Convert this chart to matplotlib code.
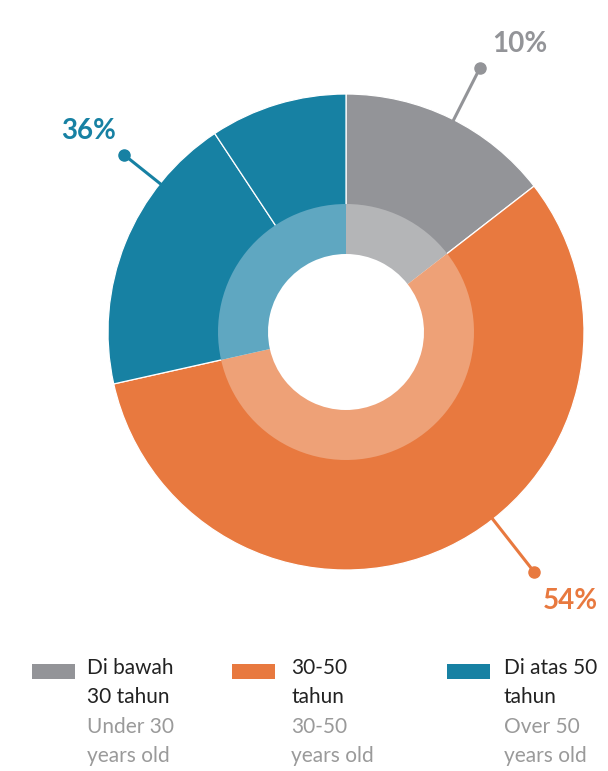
import matplotlib
matplotlib.use("Agg")
import matplotlib.pyplot as plt
from matplotlib.patches import Rectangle
import numpy as np

plt.rcParams['font.family'] = ['Lato', 'DejaVu Sans']

# ---- data ----
categories = ["Di bawah 30 tahun", "30-50 tahun", "Di atas 50 tahun"]
pct_labels = ["10%", "54%", "36%"]
# outer ring segment shares as drawn (blue drawn as two pieces)
outer_shares = [14.5, 57.0, 19.2, 9.3]
outer_groups = [0, 1, 2, 2]
inner_shares = [14.5, 57.0, 28.5]
legend_id = [["Di bawah", "30 tahun"], ["30-50", "tahun"], ["Di atas 50", "tahun"]]
legend_en = [["Under 30", "years old"], ["30-50", "years old"], ["Over 50", "years old"]]

# ---- style ----
dark = ["#939498", "#e8793f", "#1781a3"]
light = ["#b4b5b7", "#eea177", "#5fa7c1"]
leader_angle = [63.1, -51.9, 141.4]
leader_len = [296, 305, 284]

W, H = 608, 771
fig = plt.figure(figsize=(W / 100, H / 100), dpi=100)
ax = fig.add_axes([0, 0, 1, 1])

cx, cy, R = 346, H - 332, 238
r_in = 128
r_hole = 78

ax.pie(outer_shares, colors=[dark[g] for g in outer_groups], startangle=90,
       counterclock=False, center=(cx, cy), radius=R,
       wedgeprops=dict(width=R - r_in + 6, edgecolor='white', linewidth=0.9),
       frame=True)
ax.pie(inner_shares, colors=light, startangle=90, counterclock=False,
       center=(cx, cy), radius=r_in,
       wedgeprops=dict(width=r_in - r_hole, edgecolor='none', linewidth=0),
       frame=True)
ax.set_xlim(0, W)
ax.set_ylim(0, H)
ax.set_aspect('equal')
ax.axis('off')

# leader lines + labels
label_off = {0: (40, 24), 1: (36, -29), 2: (-35, 24)}
for i, a in enumerate(leader_angle):
    t = np.deg2rad(a)
    r0, r1 = R - 2, leader_len[i]
    x0, y0 = cx + r0 * np.cos(t), cy + r0 * np.sin(t)
    x1, y1 = cx + r1 * np.cos(t), cy + r1 * np.sin(t)
    ax.plot([x0, x1], [y0, y1], color=dark[i], lw=2.2, solid_capstyle='butt')
    ax.plot([x1], [y1], 'o', color=dark[i], ms=8)
    dx, dy = label_off[i]
    ax.text(x1 + dx, y1 + dy, pct_labels[i], color=dark[i], fontsize=20,
            fontweight='bold', ha='center', va='center')

# legend
sq_x = [32, 232, 447]
txt_x = [87, 291, 504]
line_y = [668, 697, 727, 756]
for i in range(3):
    ax.add_patch(Rectangle((sq_x[i], H - 679), 43, 15, color=dark[i], lw=0))
    lines = legend_id[i] + legend_en[i]
    for j, s in enumerate(lines):
        ax.text(txt_x[i], H - line_y[j], s,
                color="#222222" if j < 2 else "#9a9a9a", fontsize=15,
                fontweight='normal', ha='left', va='center')

fig.savefig("out.png", dpi=100)
